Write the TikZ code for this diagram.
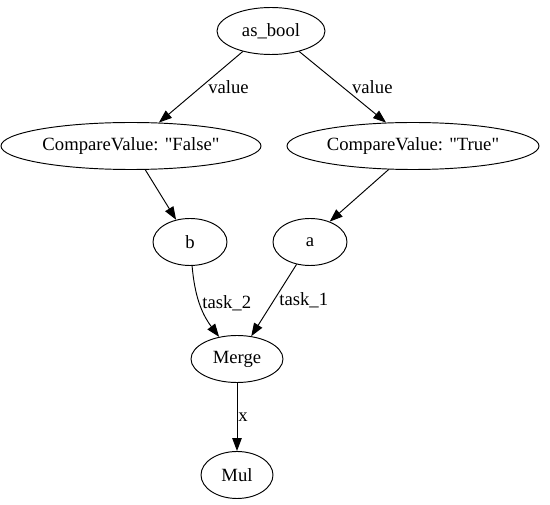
\documentclass[tikz,border=0pt]{standalone}
\usepackage{fontspec}
\setmainfont{Liberation Serif}
\usetikzlibrary{arrows.meta,shapes.geometric}

\begin{document}
\begin{tikzpicture}[x=1pt,y=-1pt,line width=0.95pt,
  font=\fontsize{18.67}{22}\selectfont,
  op/.style={draw,ellipse,inner sep=0pt,minimum height=47pt},
  edge/.style={-{Triangle[length=13pt,width=9.5pt]}},
  lbl/.style={inner sep=0pt}]
  \useasboundingbox (0,0) rectangle (550,505);
  % nodes
  \node[op,minimum width=108pt,label=center:as\_bool] (asbool) at (271,31) {};
  \node[op,minimum width=260pt,label=center:{CompareValue: \textquotedbl False\textquotedbl}] (cvf) at (131,146) {};
  \node[op,minimum width=252pt,label=center:{CompareValue: \textquotedbl True\textquotedbl}] (cvt) at (413,146) {};
  \node[op,minimum width=74pt,label=center:b] (b) at (190,242) {};
  \node[op,minimum width=74pt,label=center:a] (a) at (310,242) {};
  \node[op,minimum width=92pt,label=center:Merge] (merge) at (237,359) {};
  \node[op,minimum width=72pt,label=center:Mul] (mul) at (237,475) {};
  % edges
  \draw[edge] (asbool.-144) -- (cvf.40) node[lbl,pos=0.5,right=7pt] {value};
  \draw[edge] (asbool.-36) -- (cvt.139) node[lbl,pos=0.5,right=9pt] {value};
  \draw[edge] (cvf.-59) -- (b.122);
  \draw[edge] (cvt.-136) -- (a.46);
  \draw[edge] (b.-85) to[out=-85,in=127] node[lbl,pos=0.5,right=2pt] {task\_2} (merge.129);
  \draw[edge] (a.-121) -- (merge.58) node[lbl,pos=0.5,right=5pt] {task\_1};
  \draw[edge] (merge) -- (mul) node[lbl,pos=0.5,right=1pt] {x};
\end{tikzpicture}
\end{document}
